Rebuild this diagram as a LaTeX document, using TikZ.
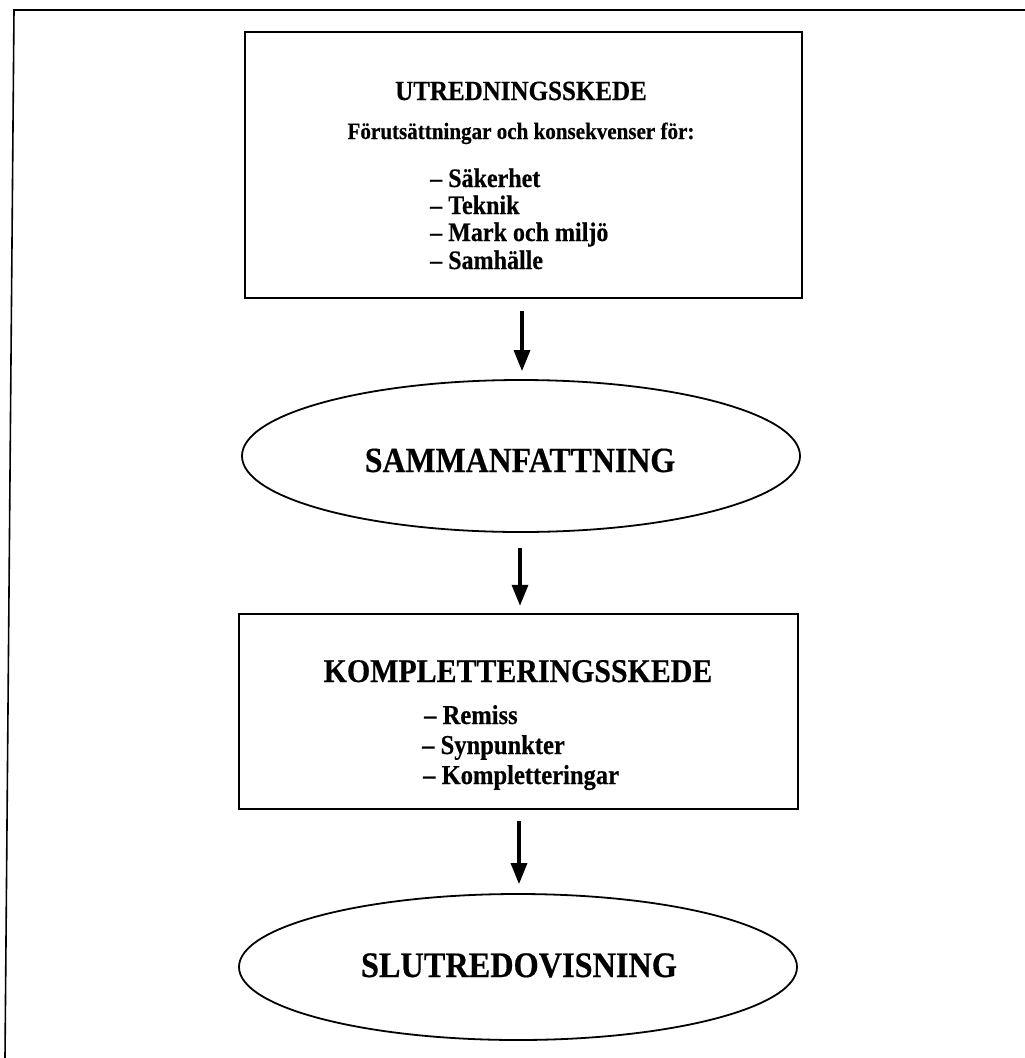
\documentclass[tikz,border=0pt]{standalone}
\usepackage{fontspec}
% slightly narrowed, enlarged serif gives the tall bold lettering
\setmainfont{Liberation Serif}[FakeStretch=0.9, BoldFeatures={FakeBold=0.4}]
\usetikzlibrary{shapes.geometric,arrows.meta}

\newcommand{\lettersize}[1]{\fontsize{#1}{#1}\selectfont}

\tikzset{
  stagebox/.style={draw, line width=2.4pt, rectangle, inner sep=0pt},
  stageoval/.style={draw, line width=1.8pt, ellipse, inner sep=0pt},
  flowarrow/.style={line width=3.4pt, -{Triangle[length=21pt,width=16pt]}},
  headtext/.style={font=\bfseries\lettersize{#1}, inner sep=0pt, anchor=base},
  itemtext/.style={font=\bfseries\lettersize{#1}, inner sep=0pt, anchor=base west},
}

\begin{document}
\begin{tikzpicture}[x=1pt,y=-1pt]
  \useasboundingbox (0,0) rectangle (1025,1058);

  % page frame (only top and left edges fall on the sheet)
  \coordinate (frameTR) at (1025,10);
  \coordinate (frameTL) at (14,10);
  \coordinate (frameBL) at (5,1058);
  \draw[line width=1.6pt] (frameTR) -- (frameTL) -- (frameBL);

  % stage 1: investigation
  \node[stagebox, minimum width=557pt, minimum height=266pt] (box1) at (523.5,165) {};
  \node[headtext=27.8] (h1) at (521,100) {UTREDNINGSSKEDE};
  \node[headtext=23.4] (s1) at (521,139) {Förutsättningar och konsekvenser för:};
  \node[itemtext=26.7] (i1) at (430,187) {– Säkerhet};
  \node[itemtext=26.7] (i2) at (430,214) {– Teknik};
  \node[itemtext=26.7] (i3) at (430,241) {– Mark och miljö};
  \node[itemtext=26.7] (i4) at (430,269) {– Samhälle};

  % summary
  \node[stageoval, minimum width=558pt, minimum height=152pt] (ell1) at (521,456) {};
  \node[headtext=35.4] (t1) at (520,472) {SAMMANFATTNING};

  % stage 2: completion
  \node[stagebox, minimum width=559pt, minimum height=195pt] (box2) at (518.5,711.5) {};
  \node[headtext=33.2] (h2) at (518,682) {KOMPLETTERINGSSKEDE};
  \node[itemtext=27.3] (j1) at (424,724) {– Remiss};
  \node[itemtext=27.3] (j2) at (422,754) {– Synpunkter};
  \node[itemtext=27.3] (j3) at (423,784) {– Kompletteringar};

  % final report
  \node[stageoval, minimum width=558pt, minimum height=146pt] (ell2) at (518,967) {};
  \node[headtext=35.9] (t2) at (519,977) {SLUTREDOVISNING};

  % connectors
  \draw[flowarrow, shorten <=12pt, shorten >=8pt] (box1.south -| 522,0) -- (ell1.north -| 522,0);
  \draw[flowarrow, shorten <=15pt, shorten >=7pt] (ell1.south -| 520,0) -- (box2.north -| 520,0);
  \draw[flowarrow, shorten <=11pt, shorten >=9pt] (box2.south -| 519,0) -- (ell2.north -| 519,0);
\end{tikzpicture}
\end{document}
